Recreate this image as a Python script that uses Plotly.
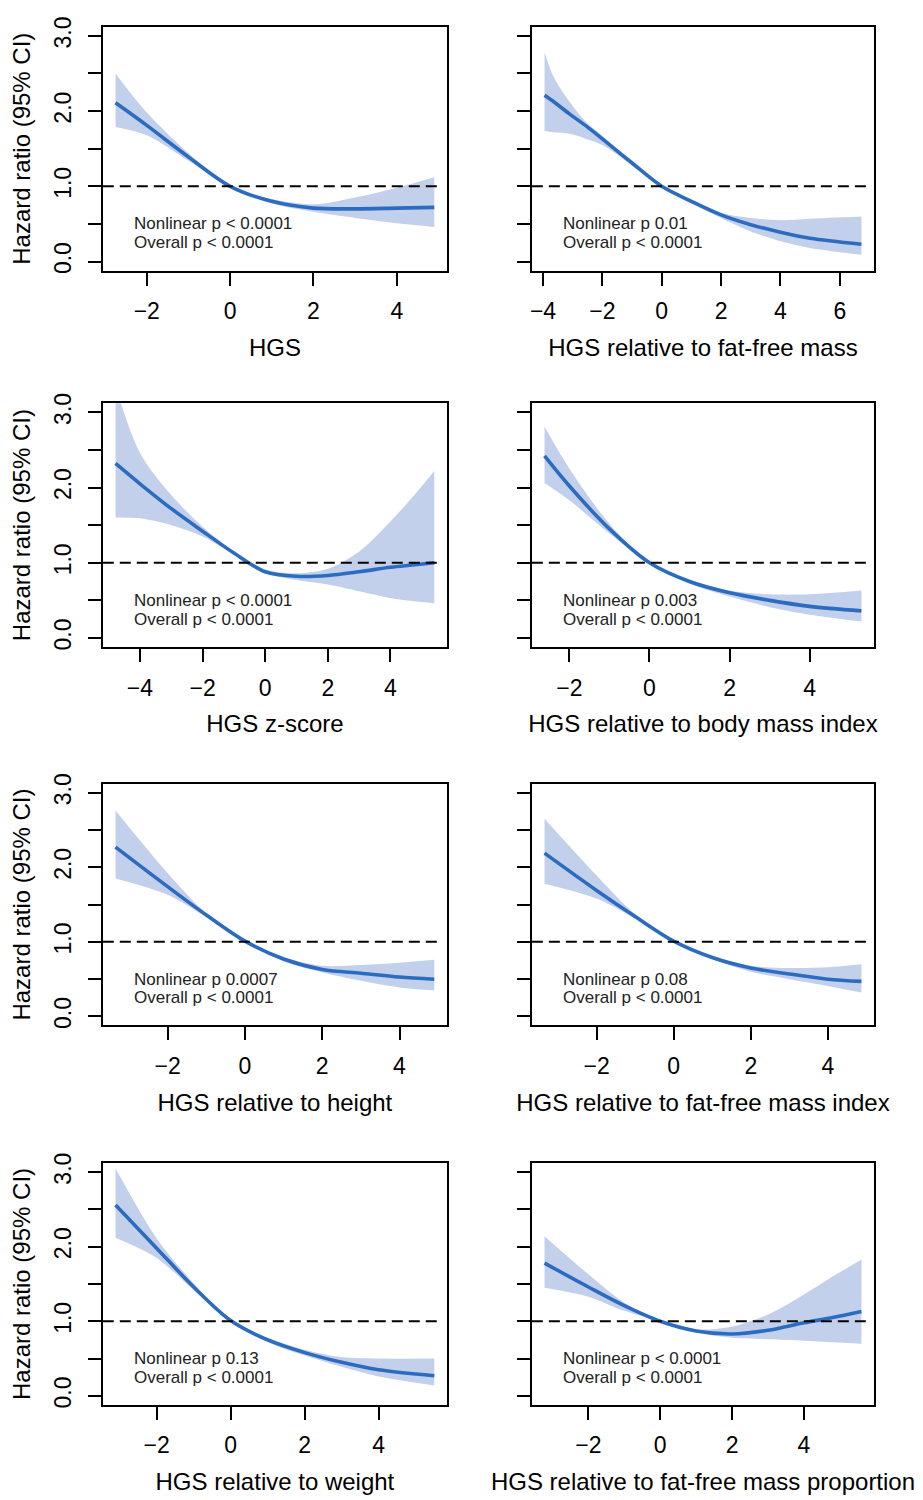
import plotly.graph_objects as go

# ---------------- data ----------------
titles = [
    "HGS", "HGS relative to fat-free mass",
    "HGS z-score", "HGS relative to body mass index",
    "HGS relative to height", "HGS relative to fat-free mass index",
    "HGS relative to weight", "HGS relative to fat-free mass proportion",
]
nonlinear_p = ["< 0.0001", "0.01", "< 0.0001", "0.003", "0.0007", "0.08", "0.13", "< 0.0001"]
overall_p = ["< 0.0001"] * 8

x_hgs = [-2.75, -2, -1, 0, 1, 2, 3, 4, 4.9]
hr_hgs = [2.11, 1.81, 1.39, 1.00, 0.80, 0.71, 0.70, 0.71, 0.72]
up_hgs = [2.50, 1.98, 1.44, 1.00, 0.83, 0.76, 0.85, 0.98, 1.12]
lo_hgs = [1.79, 1.68, 1.34, 1.00, 0.77, 0.66, 0.58, 0.51, 0.46]

x_ffm = [-3.95, -3.66, -3.1, -2.54, -2, -1, 0, 1, 2, 3, 4, 5, 6.73]
hr_ffm = [2.21, 2.13, 1.96, 1.80, 1.63, 1.31, 1.00, 0.80, 0.62, 0.49, 0.39, 0.31, 0.23]
up_ffm = [2.78, 2.47, 2.12, 1.85, 1.67, 1.33, 1.00, 0.81, 0.65, 0.58, 0.55, 0.57, 0.60]
lo_ffm = [1.74, 1.72, 1.70, 1.63, 1.55, 1.28, 1.00, 0.77, 0.58, 0.40, 0.27, 0.18, 0.09]

x_z = [-4.78, -4, -3, -2, -1, 0, 1, 2, 3, 4, 4.7, 5.4]
hr_z = [2.32, 2.05, 1.72, 1.42, 1.13, 0.88, 0.82, 0.83, 0.88, 0.94, 0.97, 1.00]
up_z = [3.35, 2.46, 1.90, 1.48, 1.15, 0.91, 0.86, 0.92, 1.15, 1.55, 1.87, 2.22]
lo_z = [1.60, 1.59, 1.50, 1.35, 1.11, 0.86, 0.77, 0.71, 0.62, 0.53, 0.49, 0.46]

x_bmi = [-2.62, -2, -1, 0, 1, 2, 3, 4, 5.29]
hr_bmi = [2.42, 2.02, 1.45, 1.00, 0.75, 0.60, 0.50, 0.42, 0.36]
up_bmi = [2.81, 2.25, 1.52, 1.00, 0.77, 0.63, 0.58, 0.58, 0.63]
lo_bmi = [2.06, 1.83, 1.39, 1.00, 0.72, 0.55, 0.41, 0.31, 0.22]

x_ht = [-3.35, -2, -1, 0, 1, 2, 3, 4, 4.9]
hr_ht = [2.27, 1.74, 1.36, 1.01, 0.77, 0.63, 0.58, 0.53, 0.50]
up_ht = [2.76, 1.92, 1.38, 1.00, 0.79, 0.68, 0.69, 0.72, 0.76]
lo_ht = [1.85, 1.63, 1.33, 1.00, 0.74, 0.59, 0.48, 0.39, 0.35]

x_ffmi = [-3.35, -2, -1, 0, 1, 2, 3, 4, 4.87]
hr_ffmi = [2.19, 1.69, 1.34, 1.01, 0.79, 0.65, 0.57, 0.50, 0.47]
up_ffmi = [2.65, 1.89, 1.37, 1.00, 0.81, 0.68, 0.65, 0.66, 0.70]
lo_ffmi = [1.78, 1.58, 1.31, 1.00, 0.77, 0.60, 0.50, 0.41, 0.32]

x_wt = [-3.11, -2, -1, 0, 1, 2, 3, 4, 5.5]
hr_wt = [2.56, 1.98, 1.46, 1.01, 0.75, 0.58, 0.45, 0.35, 0.27]
up_wt = [3.05, 2.11, 1.51, 1.00, 0.78, 0.62, 0.52, 0.50, 0.50]
lo_wt = [2.12, 1.85, 1.42, 1.00, 0.72, 0.54, 0.39, 0.26, 0.14]

x_prop = [-3.22, -2, -1, 0, 1, 2, 3, 4, 4.8, 5.6]
hr_prop = [1.78, 1.46, 1.21, 1.00, 0.87, 0.83, 0.88, 0.98, 1.05, 1.13]
up_prop = [2.14, 1.63, 1.25, 1.00, 0.89, 0.93, 1.09, 1.36, 1.60, 1.83]
lo_prop = [1.45, 1.33, 1.14, 1.00, 0.85, 0.78, 0.76, 0.74, 0.72, 0.70]

xticks = [[-2, 0, 2, 4], [-4, -2, 0, 2, 4, 6], [-4, -2, 0, 2, 4], [-2, 0, 2, 4],
          [-2, 0, 2, 4], [-2, 0, 2, 4], [-2, 0, 2, 4], [-2, 0, 2, 4]]
yticks = [0, 0.5, 1, 1.5, 2, 2.5, 3]
yticklabels = ["0.0", "", "1.0", "", "2.0", "", "3.0"]
ref_hr = 1.0

panels = [
    (x_hgs, hr_hgs, up_hgs, lo_hgs),
    (x_ffm, hr_ffm, up_ffm, lo_ffm),
    (x_z, hr_z, up_z, lo_z),
    (x_bmi, hr_bmi, up_bmi, lo_bmi),
    (x_ht, hr_ht, up_ht, lo_ht),
    (x_ffmi, hr_ffmi, up_ffmi, lo_ffmi),
    (x_wt, hr_wt, up_wt, lo_wt),
    (x_prop, hr_prop, up_prop, lo_prop),
]

# ---------------- layout / style ----------------
W, H = 923, 1500
col_px = [(101, 446), (531, 874)]
row_px = [(17, 263), (397, 643), (781, 1025), (1164, 1408)]
FONT = "Arial, Liberation Sans, sans-serif"
LINE_C = "#2B6CC0"
BAND_C = "#C3D0EC"

fig = go.Figure()
layout = dict(
    width=W, height=H, autosize=False,
    margin=dict(l=0, r=0, t=0, b=0),
    paper_bgcolor="white", plot_bgcolor="white",
    showlegend=False,
    font=dict(family=FONT, color="black"),
)
annotations = []
shapes = []

for i, (xs, hr, up, lo) in enumerate(panels):
    r, c = divmod(i, 2)
    n = i + 1
    xa = "x" if n == 1 else f"x{n}"
    ya = "y" if n == 1 else f"y{n}"
    xk = "xaxis" if n == 1 else f"xaxis{n}"
    yk = "yaxis" if n == 1 else f"yaxis{n}"

    fig.add_trace(go.Scatter(x=xs, y=lo, mode="lines", line=dict(width=0, shape="spline", smoothing=0.9),
                             xaxis=xa, yaxis=ya, hoverinfo="skip"))
    fig.add_trace(go.Scatter(x=xs, y=up, mode="lines", line=dict(width=0, shape="spline", smoothing=0.9),
                             fill="tonexty", fillcolor=BAND_C, xaxis=xa, yaxis=ya, hoverinfo="skip"))
    fig.add_trace(go.Scatter(x=xs, y=hr, mode="lines", line=dict(color=LINE_C, width=3.6, shape="spline", smoothing=0.9),
                             xaxis=xa, yaxis=ya))

    x0, x1 = col_px[c]
    y0, y1 = row_px[r]
    pad = 0.04 * (max(xs) - min(xs))
    layout[xk] = dict(
        domain=[x0 / W, x1 / W], anchor=ya, range=[min(xs) - pad, max(xs) + pad],
        tickvals=xticks[i], ticks="outside", ticklen=13, tickwidth=2, tickcolor="black",
        showline=True, linecolor="black", linewidth=2, mirror=True,
        showgrid=False, zeroline=False,
        tickfont=dict(size=23, family=FONT), ticklabelstandoff=6,
        title=dict(text=titles[i], font=dict(size=24, family=FONT), standoff=16),
    )
    layout[yk] = dict(
        domain=[1 - y1 / H, 1 - y0 / H], anchor=xa, range=[-0.12, 3.12],
        tickvals=yticks, ticktext=yticklabels, tickangle=-90,
        ticks="outside", ticklen=13, tickwidth=2, tickcolor="black",
        showline=True, linecolor="black", linewidth=2, mirror=True,
        showgrid=False, zeroline=False, showticklabels=(c == 0),
        tickfont=dict(size=23, family=FONT), ticklabelstandoff=8,
        title=dict(text="Hazard ratio (95% CI)" if c == 0 else "", font=dict(size=24, family=FONT), standoff=12),
    )
    shapes.append(dict(type="line", xref=f"{xa} domain", yref=ya, x0=0, x1=0.985, y0=ref_hr, y1=ref_hr,
                       line=dict(color="black", width=2, dash="11px,6px")))
    for yy, txt in ((0.191, f"Nonlinear p {nonlinear_p[i]}"), (0.114, f"Overall p {overall_p[i]}")):
        annotations.append(dict(xref=f"{xa} domain", yref=f"{ya} domain", x=0.085, y=yy,
                                xanchor="left", yanchor="middle", showarrow=False, text=txt,
                                font=dict(size=17, family=FONT, color="#222")))

layout["annotations"] = annotations
layout["shapes"] = shapes
fig.update_layout(**layout)
fig.write_html("out.html", config={"displayModeBar": False})

# remove the browser's default page margin so the figure sits at (0, 0)
with open("out.html", "r", encoding="utf-8") as f:
    html = f.read()
html = html.replace("<head>", "<head><style>html,body{margin:0;padding:0;overflow:hidden;}</style>", 1)
with open("out.html", "w", encoding="utf-8") as f:
    f.write(html)
